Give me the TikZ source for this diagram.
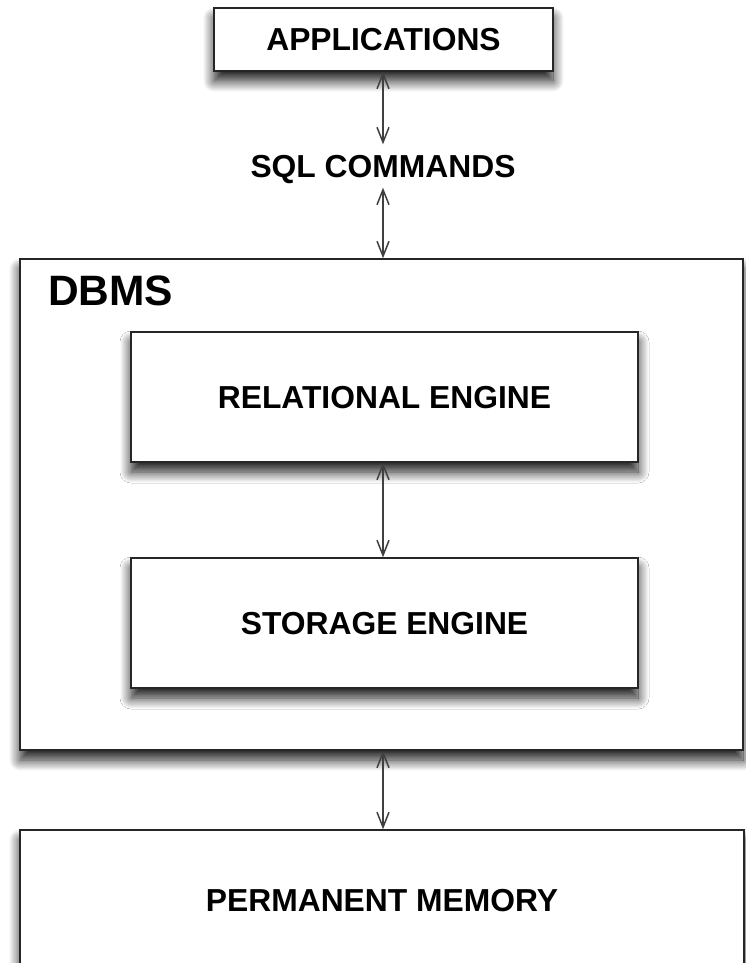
\documentclass[tikz,border=0pt]{standalone}
\usepackage{fontspec}
\setmainfont{Liberation Sans}
\usetikzlibrary{arrows.meta,shadows.blur}
\begin{document}
\begin{tikzpicture}[x=1pt,y=-1pt,
  box/.style={draw=black!85, line width=1.5pt, fill=white, rectangle, inner sep=0pt,
    blur shadow={shadow xshift=0pt, shadow yshift=-10pt, shadow blur radius=11pt, shadow blur steps=14, shadow opacity=90}},
  lbl/.style={font=\fontsize{31.8}{36}\selectfont\bfseries, text height=22.8pt, text depth=0pt},
  dbl/.style={{Straight Barb[length=15pt,width=12pt,line width=1.5pt]}-{Straight Barb[length=15pt,width=12pt,line width=1.5pt]}, draw=black!75, line width=1.7pt}
]
\useasboundingbox (0,0) rectangle (746,963);
\clip (0,0) rectangle (746,963);

\node[box, lbl, minimum width=339pt, minimum height=63pt] (app) at (383.5,39.5) {APPLICATIONS};
\node[lbl, inner sep=0pt, minimum height=43pt] (sql) at (383,166) {SQL COMMANDS};

\node[box, minimum width=723pt, minimum height=491pt] (dbms) at (381.5,504.5) {};
\node[anchor=base west, inner sep=0pt, font=\fontsize{42.5}{48}\selectfont\bfseries] (dbmslbl) at (48,305) {DBMS};

\node[box, lbl, minimum width=507pt, minimum height=130pt] (rel) at (384.5,397) {RELATIONAL ENGINE};
\node[box, lbl, minimum width=507pt, minimum height=130pt] (sto) at (384.5,623) {STORAGE ENGINE};

\node[box, lbl, minimum width=724pt, minimum height=140pt] (pm) at (382,900) {PERMANENT MEMORY};

\draw[dbl] (sql |- app.south) -- (sql.north);
\draw[dbl] (sql.south) -- (sql |- dbms.north);
\draw[dbl] (sql |- rel.south) -- (sql |- sto.north);
\draw[dbl] (sql |- dbms.south) -- (sql |- pm.north);
\end{tikzpicture}
\end{document}
